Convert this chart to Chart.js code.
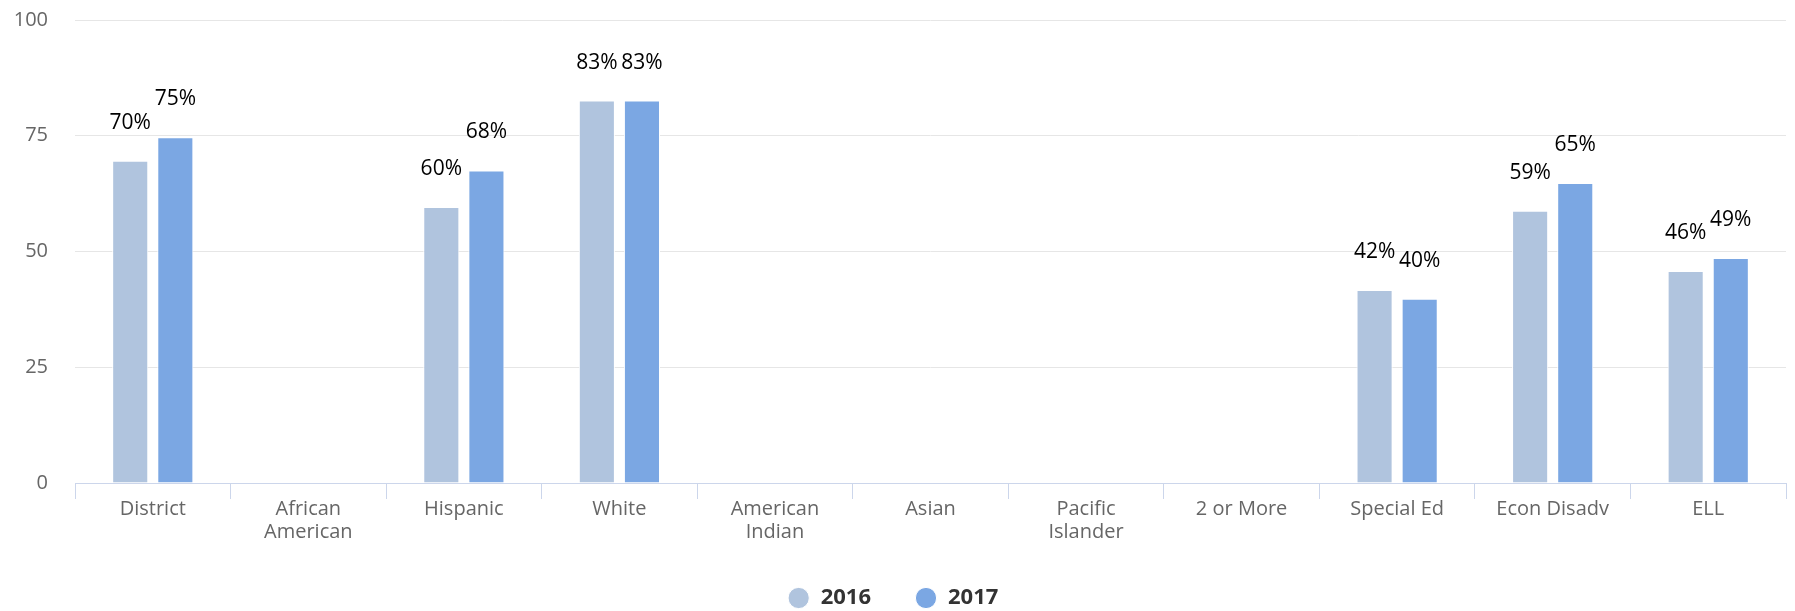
<!DOCTYPE html>
<html>
<head>
<meta charset="utf-8">
<script src="https://cdn.jsdelivr.net/npm/chart.js@4/dist/chart.umd.min.js"></script>
<style>
  html,body{margin:0;padding:0;background:#fff;}
  #wrap{width:1795px;height:611px;position:relative;}
</style>
</head>
<body>
<div id="wrap"><canvas id="groupChart"></canvas></div>
<script>
// categories and values (null = no bar shown)
const categories = ["District", ["African","American"], "Hispanic", "White", ["American","Indian"], "Asian", ["Pacific","Islander"], "2 or More", "Special Ed", "Econ Disadv", "ELL"];
const values2016 = [69.6, null, 59.6, 82.6, null, null, null, null, 41.7, 58.8, 45.8];
const values2017 = [74.7, null, 67.5, 82.6, null, null, null, null, 39.8, 64.8, 48.6];
const seriesNames = ["2016", "2017"];
const yTicks = [0, 25, 50, 75, 100];

const colors = ["#b0c4de", "#7ba7e3"];
const FONT = "'Open Sans', 'Noto Sans', sans-serif";

// percentage labels above each bar
const barLabels = {
  id: "barLabels",
  afterDatasetsDraw(chart){
    const ctx = chart.ctx;
    ctx.save();
    ctx.font = "21px " + FONT;
    ctx.fillStyle = "#000";
    ctx.textAlign = "center";
    ctx.textBaseline = "alphabetic";
    chart.data.datasets.forEach((ds, i) => {
      const meta = chart.getDatasetMeta(i);
      meta.data.forEach((bar, j) => {
        const v = ds.data[j];
        if (v === null || v === undefined) return;
        ctx.fillText(Math.round(v) + "%", bar.x, bar.y - 32);
      });
    });
    ctx.restore();
  }
};

new Chart(document.getElementById("groupChart"), {
  type: "bar",
  data: {
    labels: categories,
    datasets: [
      {label: seriesNames[0], data: values2016, backgroundColor: colors[0], borderColor: "#fff", borderWidth: 1},
      {label: seriesNames[1], data: values2017, backgroundColor: colors[1], borderColor: "#fff", borderWidth: 1}
    ]
  },
  options: {
    responsive: true,
    maintainAspectRatio: false,
    animation: false,
    datasets: {bar: {categoryPercentage: 0.58, barPercentage: 0.8}},
    layout: {padding: {top: 20, right: 9, left: 0, bottom: -8}},
    scales: {
      x: {
        grid: {display: true, drawOnChartArea: false, offset: true, color: "#ccd6eb", tickLength: 16, lineWidth: 1},
        border: {display: true, color: "#ccd6eb", width: 1},
        ticks: {color: "#666", font: {family: FONT, size: 20, lineHeight: 1.15}, padding: -1, maxRotation: 0, autoSkip: false}
      },
      y: {
        min: 0, max: 100,
        afterFit(scale){ scale.width = 75; scale.paddingTop = 0; scale.paddingBottom = 0; },
        afterBuildTicks(scale){ scale.ticks = yTicks.map(v => ({value: v})); },
        grid: {color: "#e6e6e6", drawTicks: false, lineWidth: 1},
        border: {display: false},
        ticks: {color: "#666", font: {family: FONT, size: 20}, padding: 27}
      }
    },
    plugins: {
      legend: {
        position: "bottom",
        labels: {
          usePointStyle: true, pointStyle: "circle",
          boxWidth: 22, boxHeight: 15,
          padding: 44,
          color: "#333",
          font: {family: FONT, size: 22, weight: "bold", lineHeight: 1}
        }
      },
      tooltip: {enabled: false}
    }
  },
  plugins: [barLabels]
});
</script>
</body>
</html>
